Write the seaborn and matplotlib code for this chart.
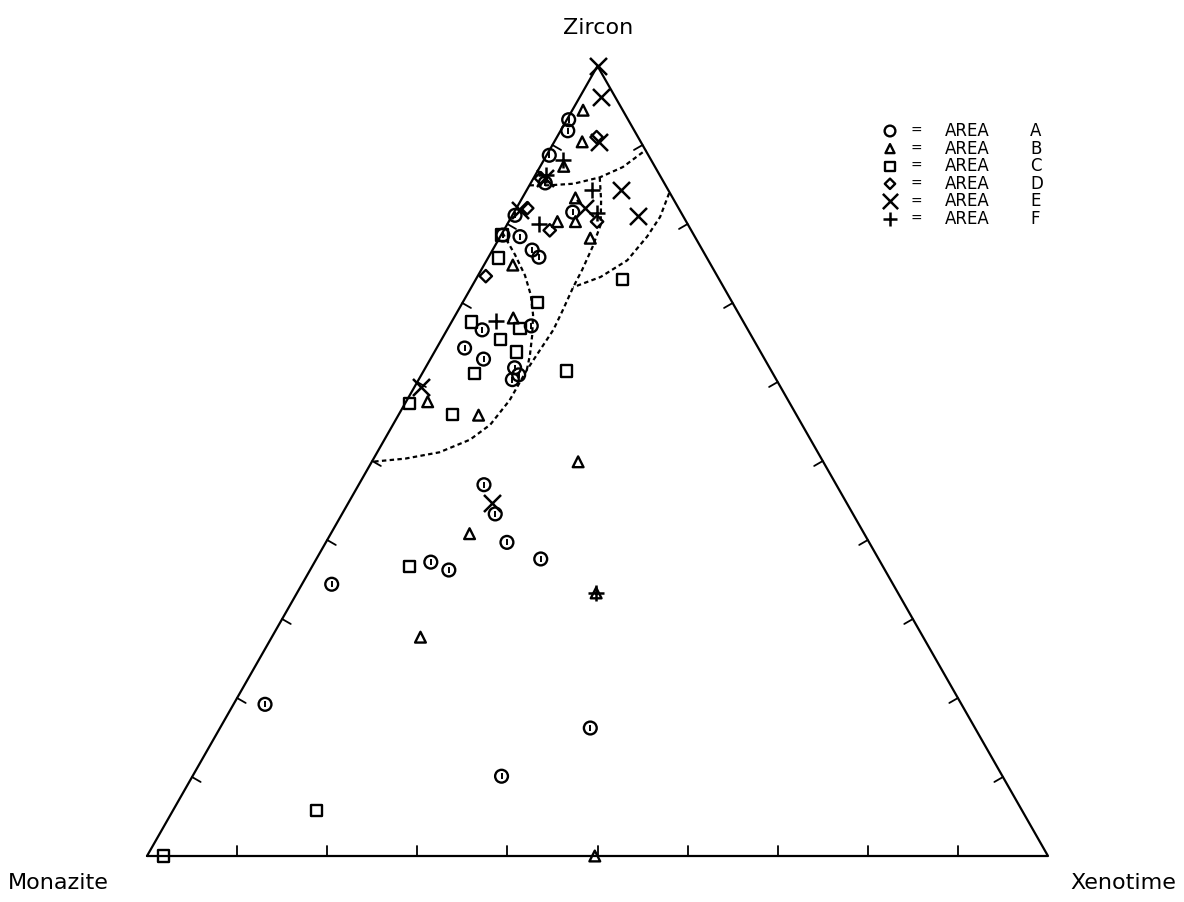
import numpy as np
import pandas as pd
import matplotlib
matplotlib.use("Agg")
import matplotlib.pyplot as plt
import seaborn as sns

# Compositions in percent (Zircon, Xenotime); Monazite = 100 - both
area_a_zir = [93.2, 91.8, 88.7, 85.2, 81.1, 78.4, 76.7, 75.8, 78.6, 81.5, 67.1, 66.6, 64.3,
              62.9, 61.8, 60.9, 60.3, 47.0, 43.3, 39.7, 37.6, 37.2, 36.2, 34.4, 19.2, 16.2, 10.1]
area_a_xen = [0.2, 0.8, 0.3, 1.6, 0.3, 2.2, 4.4, 5.6, 0.2, 6.5, 9.1, 3.9, 3.1,
              5.9, 9.9, 10.8, 10.4, 13.9, 17.0, 20.1, 24.9, 12.9, 15.4, 3.3, 3.5, 41.1, 34.3]

area_b_zir = [94.4, 90.4, 87.3, 83.3, 80.3, 80.3, 78.2, 74.8, 68.1, 57.5, 55.8, 49.9, 40.8, 27.7, 33.3, 0.0]
area_b_xen = [1.2, 3.1, 2.6, 5.9, 7.4, 5.4, 10.1, 3.2, 6.6, 2.4, 8.9, 22.9, 15.4, 16.5, 33.2, 49.7]

area_c_zir = [78.6, 75.7, 70.1, 67.6, 65.4, 66.8, 63.8, 61.1, 61.4, 57.3, 55.9, 73.0, 36.6, 5.8, 0.0]
area_c_xen = [0.1, 1.2, 8.3, 2.2, 6.5, 8.0, 9.1, 5.8, 15.9, 0.5, 6.0, 16.3, 10.8, 15.9, 1.8]

area_d_zir = [91.0, 79.2, 73.4, 80.3, 85.8, 82.0]
area_d_xen = [4.4, 5.1, 0.9, 9.8, 0.8, 1.2]

area_e_zir = [100.0, 96.1, 90.4, 84.3, 81.0, 82.0, 81.8, 59.4, 44.7, 85.8]
area_e_xen = [0.0, 2.3, 5.0, 10.5, 14.0, 7.6, 0.5, 0.7, 15.9, 1.3]

area_f_zir = [84.3, 80.0, 67.7, 81.4, 33.3, 86.2, 88.1]
area_f_xen = [7.2, 3.5, 4.9, 9.2, 33.2, 1.2, 2.1]

# Field boundaries (Zircon, Xenotime)
bound1_zir = [84.9, 84.9, 85.1, 85.9, 87.2, 89.4]
bound1_xen = [0.0, 2.2, 4.8, 7.3, 9.2, 10.7]
bound2_zir = [85.9, 83.0, 79.9, 77.1, 74.2, 72.0, 69.1, 66.6, 64.1, 61.5, 57.7, 54.6, 52.7, 51.1, 50.3, 49.9]
bound2_xen = [7.3, 8.9, 10.4, 10.9, 11.2, 11.3, 11.6, 11.8, 11.6, 11.4, 11.4, 10.8, 9.5, 6.9, 3.5, 0.0]
bound3_zir = [83.9, 80.9, 78.4, 75.4, 73.3, 72.0]
bound3_xen = [16.0, 16.5, 16.3, 15.6, 13.7, 11.3]
bound4_zir = [78.9, 76.1, 73.5, 71.0, 68.5, 65.9, 63.4, 61.5]
bound4_xen = [0.0, 2.8, 5.2, 7.1, 8.6, 9.8, 10.8, 11.4]

H = 790 / 901  # height of the drawn triangle relative to its base


def to_xy(zir, xen):
    z = np.asarray(zir) / 100.0
    x = np.asarray(xen) / 100.0
    return x + z / 2.0, z * H


sns.set_theme(style="white")
plt.rcParams["font.family"] = ["DejaVu Sans"]
plt.rcParams["text.color"] = "black"

fig = plt.figure(figsize=(11.84, 9.02), dpi=100)
ax = fig.add_axes([0, 0, 1, 1])
ax.set_xlim(-147 / 901, 1037 / 901)
ax.set_ylim(-46 / 901, 856 / 901)
ax.axis("off")

# triangle frame
ax.plot([0, 1, 0.5, 0], [0, 0, H, 0], color="black", lw=1.6)

# ticks every 10 %, pointing inward
tl = 0.011
for k in range(1, 10):
    f = k / 10
    ax.plot([f, f], [0, tl], color="black", lw=1.3)
    lx, ly = 0.5 * f, H * f
    ax.plot([lx, lx + tl * 0.866], [ly, ly - tl * 0.5], color="black", lw=1.3)
    rx, ry = 1 - 0.5 * f, H * f
    ax.plot([rx, rx - tl * 0.866], [ry, ry - tl * 0.5], color="black", lw=1.3)

# dashed field boundaries
for bz, bx in [(bound1_zir, bound1_xen), (bound2_zir, bound2_xen),
               (bound3_zir, bound3_xen), (bound4_zir, bound4_xen)]:
    px, py = to_xy(bz, bx)
    ax.plot(px, py, color="black", lw=1.6, ls=(0, (2.0, 1.5)))

areas = [
    ("A", area_a_zir, area_a_xen, "o", 85, True),
    ("B", area_b_zir, area_b_xen, "^", 60, True),
    ("C", area_c_zir, area_c_xen, "s", 65, True),
    ("D", area_d_zir, area_d_xen, "D", 40, True),
    ("E", area_e_zir, area_e_xen, "x", 150, False),
    ("F", area_f_zir, area_f_xen, "+", 130, False),
]

for name, zr, xe, mk, size, filled in areas:
    px, py = to_xy(zr, xe)
    df = pd.DataFrame({"x": px, "y": py})
    if filled:
        sns.scatterplot(data=df, x="x", y="y", marker=mk, s=size, facecolor="none",
                        edgecolor="black", linewidth=1.7, ax=ax, zorder=3)
        if mk == "o":
            sns.scatterplot(data=df, x="x", y="y", marker="|", s=25, color="black",
                            linewidth=1.4, ax=ax, zorder=3)
    else:
        sns.scatterplot(data=df, x="x", y="y", marker=mk, s=size, color="black",
                        linewidth=1.8, ax=ax, zorder=3)

# legend drawn in figure-pixel layout
for i, (name, zr, xe, mk, size, filled) in enumerate(areas):
    yy = 1 - (131 + 17.6 * i) / 902
    if filled:
        ax.scatter([890 / 1184], [yy], transform=ax.transAxes, marker=mk, s=size * 0.7,
                   facecolor="none", edgecolor="black", linewidth=1.7)
    else:
        ax.scatter([890 / 1184], [yy], transform=ax.transAxes, marker=mk, s=size * 0.8,
                   color="black", linewidth=1.8)
    ax.text(916 / 1184, yy, "=", transform=ax.transAxes, ha="center", va="center",
            fontsize=10, color="black")
    ax.text(945 / 1184, yy, "AREA", transform=ax.transAxes, ha="left", va="center",
            fontsize=12, color="black")
    ax.text(1030 / 1184, yy, name, transform=ax.transAxes, ha="left", va="center",
            fontsize=12, color="black")

# corner labels
ax.text(598 / 1184, 1 - 28 / 902, "Zircon", transform=ax.transAxes, ha="center",
        va="center", fontsize=16, color="black")
ax.text(8 / 1184, 1 - 883 / 902, "Monazite", transform=ax.transAxes, ha="left",
        va="center", fontsize=16, color="black")
ax.text(1176 / 1184, 1 - 883 / 902, "Xenotime", transform=ax.transAxes, ha="right",
        va="center", fontsize=16, color="black")

fig.savefig("out.png", dpi=100, facecolor="white")
